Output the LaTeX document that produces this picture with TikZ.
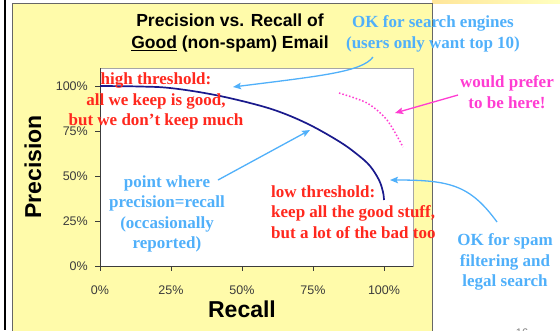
\documentclass[tikz,border=0pt]{standalone}
\usepackage{fontspec}
\setmainfont{Liberation Serif}
\setsansfont{Liberation Sans}
\usetikzlibrary{arrows.meta}
\definecolor{panel}{RGB}{255,251,170}
\definecolor{lblue}{RGB}{80,176,250}
\definecolor{tred}{RGB}{255,40,30}
\definecolor{navy}{RGB}{25,25,140}
\definecolor{pinkc}{RGB}{255,60,210}
\definecolor{axisgray}{RGB}{60,60,60}
\begin{document}
\begin{tikzpicture}[x=1pt,y=-1pt,
  note/.style={font=\bfseries\fontsize{17}{20.5}\selectfont, align=center, inner sep=0pt},
  ticklab/.style={font=\sffamily\fontsize{12.5}{14}\selectfont, text=axisgray, inner sep=0pt},
  axlab/.style={font=\sffamily\bfseries\fontsize{23}{26}\selectfont, inner sep=0pt},
  arr/.style={line width=1.3pt, -{Stealth[length=8pt,width=6.5pt,inset=1.5pt]}}]
\useasboundingbox (0,0) rectangle (560,330);
\clip (0,0) rectangle (560,330);
% top strip
\shade[left color=yellow!50!orange!40, right color=yellow!25] (432,0) rectangle (560,3);
% left black line
\draw[line width=1.6pt, black] (5,0) -- (5,330);
% panel
\draw[fill=panel, draw=gray!80!black, line width=0.8pt] (12,3) rectangle (432,340);
% plot area
\draw[fill=white, draw=gray!70, line width=0.8pt] (100,68) rectangle (413,266);
\draw[axisgray, line width=0.9pt] (100,68) -- (100,266) -- (413,266);
% ticks
\foreach \yy/\lab in {86/100\%,131/75\%,176/50\%,221/25\%,266/0\%}{
  \draw[axisgray, line width=0.8pt] (95,\yy) -- (100,\yy);
  \node[ticklab, anchor=east] (yl\yy) at (88,\yy) {\lab};
}
\foreach \xx/\lab in {100/0\%,171/25\%,242/50\%,313/75\%,384/100\%}{
  \draw[axisgray, line width=0.8pt] (\xx,266) -- (\xx,271);
  \node[ticklab] (xl\xx) at (\xx,290) {\lab};
}
% axis labels
\node[axlab, rotate=90] (ylab) at (33,167) {Precision};
\node[axlab] (xlab) at (242,309) {Recall};
% title
\node[font=\sffamily\bfseries\fontsize{17.5}{22}\selectfont, align=center, inner sep=0pt] (title) at (230,33)
  {Precision vs. Recall of\\\underline{Good} (non-spam) Email};
% curve
\draw[navy, line width=1.7pt] plot[smooth, tension=0.6] coordinates
  {(100,86) (140,86.5) (170,88) (210,94) (250,103) (280,112) (310,125) (340,142) (358,155) (370,166) (379,180) (383,192) (384,200)};
% pink dotted
\draw[pinkc, line width=1.5pt, dotted] plot[smooth] coordinates {(339,93) (367,103) (387,120) (403,147)};
% texts
\node[note, text=tred] (high) at (156,101) {high threshold:\\all we keep is good,\\but we don’t keep much};
\node[note, text=lblue] (search) at (433,34) {OK for search engines\\(users only want top 10)};
\node[note, text=pinkc] (prefer) at (507,92) {would prefer\\to be here!};
\node[note, text=lblue] (point) at (167,214) {point where\\precision=recall\\(occasionally\\reported)};
\node[note, text=tred, align=left, anchor=west] (low) at (271,212) {low threshold:\\keep all the good stuff,\\but a lot of the bad too};
\node[note, text=lblue] (spam) at (505,262) {OK for spam\\filtering and\\legal search};
\node[font=\sffamily\fontsize{11}{12}\selectfont, text=gray, inner sep=0pt] (pg) at (522,333) {16};
% arrow end points
\coordinate (searchS) at (373,57);
\coordinate (searchE) at (233,87);
\coordinate (pointS) at (218,180);
\coordinate (pointE) at (310,130);
\coordinate (spamS) at (497,222);
\coordinate (spamE) at (390,180);
\coordinate (prefS) at (458,95);
\coordinate (prefE) at (395,113);
% arrows
\draw[arr, lblue] (searchS) .. controls (362,72) and (320,76) .. (searchE);
\draw[arr, lblue] (pointS) -- (pointE);
\draw[arr, lblue] (spamS) .. controls (470,185) and (450,180) .. (spamE);
\draw[arr, pinkc] (prefS) -- (prefE);
\end{tikzpicture}
\end{document}
